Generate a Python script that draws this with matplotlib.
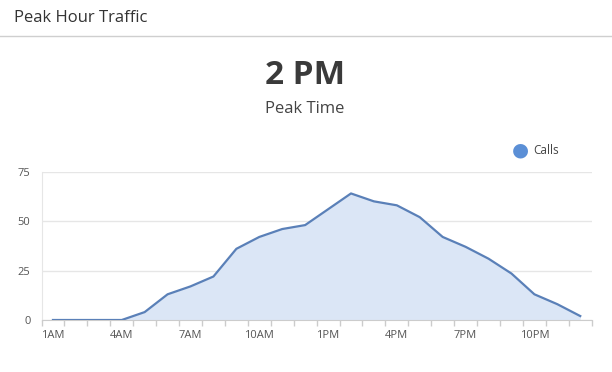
import matplotlib
matplotlib.use("Agg")
import matplotlib.pyplot as plt
import numpy as np

hours = ["1AM", "2AM", "3AM", "4AM", "5AM", "6AM", "7AM", "8AM", "9AM", "10AM", "11AM", "12PM",
         "1PM", "2PM", "3PM", "4PM", "5PM", "6PM", "7PM", "8PM", "9PM", "10PM", "11PM", "12AM"]
calls = [0, 0, 0, 0, 4, 13, 17, 22, 36, 42, 46, 48,
         56, 64, 60, 58, 52, 42, 37, 31, 23.5, 13, 8, 2]
y_ticks = [0, 25, 50, 75]
title = "Peak Hour Traffic"
kpi_value = "2 PM"
kpi_label = "Peak Time"
series_name = "Calls"

plt.rcParams['font.family'] = ['Open Sans', 'DejaVu Sans']

fig = plt.figure(figsize=(6.12, 3.72), dpi=100)
fig.patch.set_facecolor("white")

# header
fig.text(14 / 612, 1 - 18.5 / 372, title, fontsize=12, color="#333333", va="center", ha="left")
fig.add_artist(plt.Line2D([0, 1], [1 - 36 / 372, 1 - 36 / 372], color="#cfcfcf", lw=1.0,
                          transform=fig.transFigure))
fig.text(305 / 612, 1 - 75 / 372, kpi_value, fontsize=24, fontweight="bold", color="#3a3a3a",
         va="center", ha="center")
fig.text(305 / 612, 1 - 109 / 372, kpi_label, fontsize=12, color="#444444", va="center", ha="center")

ax = fig.add_axes([41.5 / 612, 1 - 320 / 372, (591.7 - 41.5) / 612, (320 - 171.7) / 372])
x = np.arange(len(hours))
ax.fill_between(x, calls, 0, color="#dbe6f6", lw=0, zorder=1)
ax.plot(x, calls, color="#5a80b8", lw=1.6, zorder=3, solid_joinstyle="round")

ax.set_xlim(-0.5, len(hours) - 0.5)
ax.set_ylim(0, 75)
ax.set_yticks(y_ticks)
ax.set_yticklabels([str(v) for v in y_ticks])
ax.grid(axis="y", color="#e6e6e6", lw=1, zorder=0)
ax.set_axisbelow(True)

label_idx = list(range(0, len(hours), 3))
ax.set_xticks(label_idx)
ax.set_xticklabels([hours[i] for i in label_idx])
ax.set_xticks(np.arange(-0.5, len(hours)), minor=True)
ax.tick_params(axis="x", which="major", length=0, pad=7, labelsize=8, labelcolor="#555555")
ax.tick_params(axis="x", which="minor", length=4, color="#cccccc", width=1)
ax.tick_params(axis="y", length=0, pad=8, labelsize=8, labelcolor="#555555")

for s in ["top", "right"]:
    ax.spines[s].set_visible(False)
ax.spines["left"].set_color("#e6e6e6")
ax.spines["bottom"].set_color("#cccccc")

# legend
fig.text(520 / 612, 1 - 150 / 372, "●", fontsize=14, color="#5b8fd6", va="center", ha="center",
         family=["DejaVu Sans"])
fig.text(533 / 612, 1 - 150.5 / 372, series_name, fontsize=8.5, color="#444444", va="center", ha="left")

fig.savefig("out.png", dpi=100, facecolor="white")
